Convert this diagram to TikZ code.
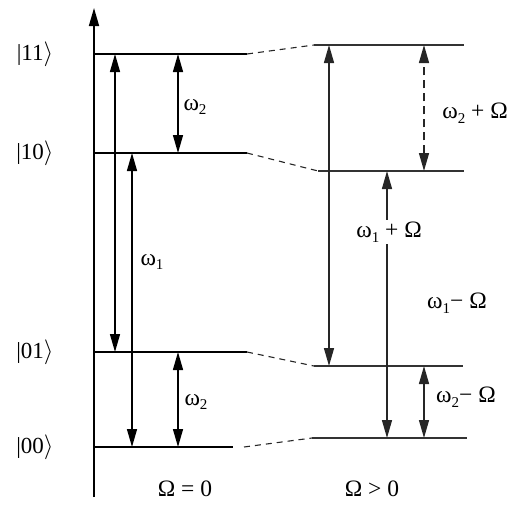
\documentclass[tikz,border=0pt]{standalone}
\usepackage{fontspec}
\setmainfont{Liberation Serif}
\usetikzlibrary{arrows.meta}
\newcommand{\lowsub}[1]{\raisebox{-0.45ex}{\fontsize{15}{15}\selectfont #1}}
\begin{document}
\begin{tikzpicture}[x=1pt,y=-1pt,
  level/.style={line width=1.8pt},
  rlevel/.style={line width=1.8pt,black!80},
  conn/.style={line width=1.1pt,dash pattern=on 6pt off 5pt,black!85},
  tr/.style={line width=1.4pt,{Triangle[length=18pt,width=10pt]}-{Triangle[length=18pt,width=10pt]}},
  rtr/.style={tr,black!85},
  axis/.style={line width=1.6pt,-{Triangle[length=18pt,width=10pt]}},
  lbl/.style={font=\fontsize{23.5}{25}\selectfont,inner sep=1pt},
  ket/.style={font=\fontsize{23}{25}\selectfont,inner sep=1pt}]
\useasboundingbox (0,0) rectangle (517,517);
% axis
\coordinate (axb) at (94,497);
\coordinate (axt) at (94,8);
\draw[axis] (axb) -- (axt);
% left levels
\coordinate (L11a) at (94,54);  \coordinate (L11b) at (247,54);
\coordinate (L10a) at (94,153); \coordinate (L10b) at (247,153);
\coordinate (L01a) at (94,352); \coordinate (L01b) at (247,352);
\coordinate (L00a) at (94,447); \coordinate (L00b) at (233,447);
\draw[level] (L11a) -- (L11b);
\draw[level] (L10a) -- (L10b);
\draw[level] (L01a) -- (L01b);
\draw[level] (L00a) -- (L00b);
% right levels
\coordinate (R11a) at (314,45);  \coordinate (R11b) at (464,45);
\coordinate (R10a) at (318,171); \coordinate (R10b) at (464,171);
\coordinate (R01a) at (314,366); \coordinate (R01b) at (463,366);
\coordinate (R00a) at (312,438); \coordinate (R00b) at (467,438);
\draw[rlevel] (R11a) -- (R11b);
\draw[rlevel] (R10a) -- (R10b);
\draw[rlevel] (R01a) -- (R01b);
\draw[rlevel] (R00a) -- (R00b);
% dashed connectors
\coordinate (L00c) at (244,447);
\draw[conn] (L11b) -- (R11a);
\draw[conn] (L10b) -- (R10a);
\draw[conn] (L01b) -- (R01a);
\draw[conn] (L00c) -- (R00a);
% kets
\node[ket] (k11) at (35,54) {|11$\rangle$};
\node[ket] (k10) at (35,153) {|10$\rangle$};
\node[ket] (k01) at (35,352) {|01$\rangle$};
\node[ket] (k00) at (35,447) {|00$\rangle$};
% left transitions
\coordinate (a1b) at (115,352); \coordinate (a1t) at (115,54);
\coordinate (a2b) at (132,447); \coordinate (a2t) at (132,153);
\coordinate (a3b) at (178,153); \coordinate (a3t) at (178,54);
\coordinate (a4b) at (178,447); \coordinate (a4t) at (178,352);
\draw[tr] (a1b) -- (a1t);
\draw[tr] (a2b) -- (a2t);
\draw[tr] (a3b) -- (a3t);
\draw[tr] (a4b) -- (a4t);
% right transitions
\coordinate (b1b) at (329,366); \coordinate (b1t) at (329,45);
\coordinate (b2b) at (387,438); \coordinate (b2t) at (387,171);
\coordinate (b3b) at (424,171); \coordinate (b3t) at (424,45);
\coordinate (b4b) at (424,438); \coordinate (b4t) at (424,366);
\draw[rtr] (b1b) -- (b1t);
\draw[rtr] (b2b) -- (b2t);
\draw[rtr,dash pattern=on 8pt off 5pt] (b3b) -- (b3t);
\draw[rtr] (b4b) -- (b4t);
% labels
\node[lbl] (w2a) at (195,107) {ω\lowsub{2}};
\node[lbl] (w1) at (152,262) {ω\lowsub{1}};
\node[lbl] (w2b) at (196,402) {ω\lowsub{2}};
\node[lbl] (om0) at (185,489) {Ω = 0};
\node[lbl] (omp) at (372,489) {Ω > 0};
\node[lbl] (w2p) at (475,113) {ω\lowsub{2} + Ω};
\node[lbl,fill=white,inner sep=2pt] (w1p) at (389,232) {ω\lowsub{1} + Ω};
\node[lbl] (w1m) at (457,303) {ω\lowsub{1}− Ω};
\node[lbl] (w2m) at (466,397) {ω\lowsub{2}− Ω};
\end{tikzpicture}
\end{document}
